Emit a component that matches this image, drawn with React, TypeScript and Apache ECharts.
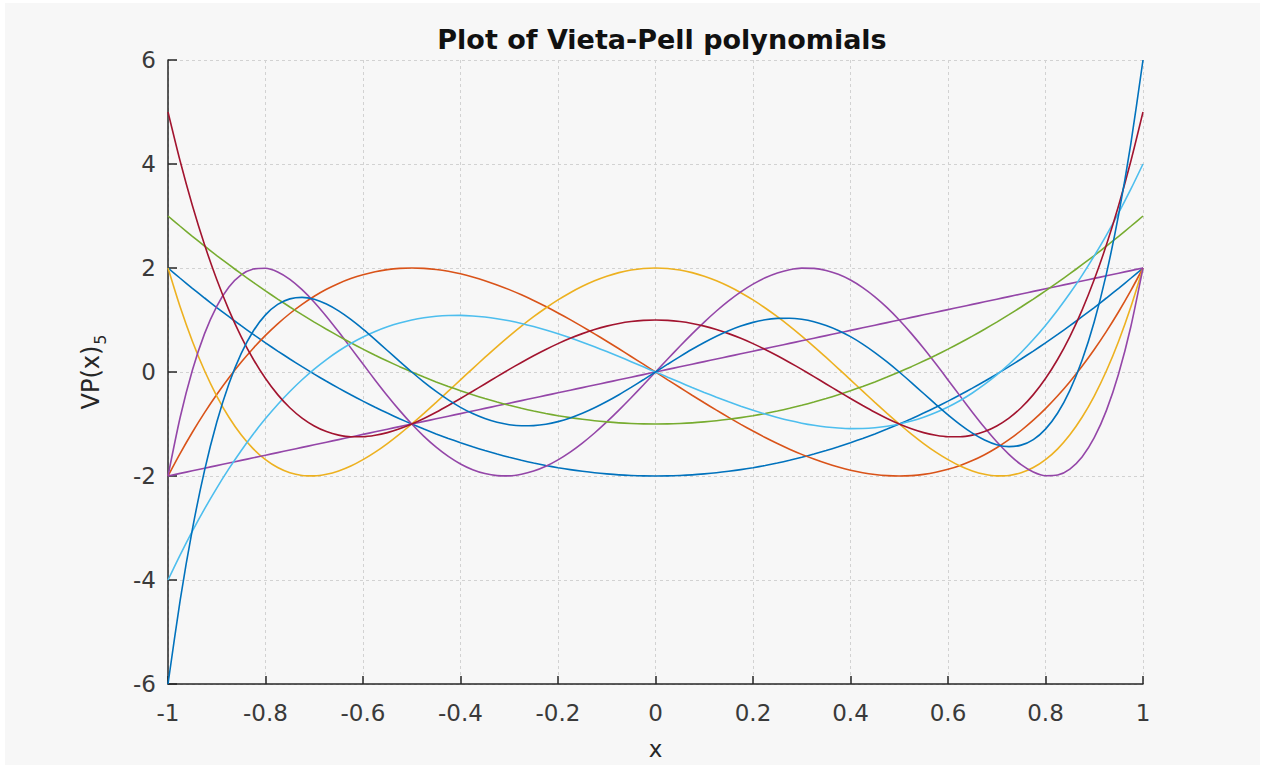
import React, { useEffect, useRef } from "react";
import * as echarts from "echarts";

// x sample positions (step 0.025)
const xs = [-1, -0.975, -0.95, -0.925, -0.9, -0.875, -0.85, -0.825, -0.8, -0.775, -0.75, -0.725, -0.7, -0.675, -0.65, -0.625, -0.6, -0.575, -0.55, -0.525, -0.5, -0.475, -0.45, -0.425, -0.4, -0.375, -0.35, -0.325, -0.3, -0.275, -0.25, -0.225, -0.2, -0.175, -0.15, -0.125, -0.1, -0.075, -0.05, -0.025, 0, 0.025, 0.05, 0.075, 0.1, 0.125, 0.15, 0.175, 0.2, 0.225, 0.25, 0.275, 0.3, 0.325, 0.35, 0.375, 0.4, 0.425, 0.45, 0.475, 0.5, 0.525, 0.55, 0.575, 0.6, 0.625, 0.65, 0.675, 0.7, 0.725, 0.75, 0.775, 0.8, 0.825, 0.85, 0.875, 0.9, 0.925, 0.95, 0.975, 1];

// Vieta-Pell-Lucas type curves
const vpl2 = [2, 1.803, 1.61, 1.423, 1.24, 1.063, 0.89, 0.723, 0.56, 0.403, 0.25, 0.103, -0.04, -0.178, -0.31, -0.438, -0.56, -0.678, -0.79, -0.898, -1, -1.098, -1.19, -1.278, -1.36, -1.438, -1.51, -1.578, -1.64, -1.698, -1.75, -1.798, -1.84, -1.878, -1.91, -1.938, -1.96, -1.978, -1.99, -1.998, -2, -1.998, -1.99, -1.978, -1.96, -1.938, -1.91, -1.878, -1.84, -1.798, -1.75, -1.698, -1.64, -1.578, -1.51, -1.438, -1.36, -1.278, -1.19, -1.098, -1, -0.898, -0.79, -0.678, -0.56, -0.438, -0.31, -0.178, -0.04, 0.103, 0.25, 0.403, 0.56, 0.723, 0.89, 1.063, 1.24, 1.423, 1.61, 1.803, 2];
const vpl3 = [-2, -1.565, -1.159, -0.782, -0.432, -0.109, 0.187, 0.458, 0.704, 0.926, 1.125, 1.301, 1.456, 1.59, 1.703, 1.797, 1.872, 1.929, 1.969, 1.992, 2, 1.993, 1.971, 1.936, 1.888, 1.828, 1.757, 1.675, 1.584, 1.484, 1.375, 1.259, 1.136, 1.007, 0.873, 0.734, 0.592, 0.447, 0.299, 0.15, 0, -0.15, -0.299, -0.447, -0.592, -0.734, -0.873, -1.007, -1.136, -1.259, -1.375, -1.484, -1.584, -1.675, -1.757, -1.828, -1.888, -1.936, -1.971, -1.993, -2, -1.992, -1.969, -1.929, -1.872, -1.797, -1.703, -1.59, -1.456, -1.301, -1.125, -0.926, -0.704, -0.458, -0.187, 0.109, 0.432, 0.782, 1.159, 1.565, 2];
const vpl4 = [2, 1.249, 0.592, 0.024, -0.462, -0.871, -1.208, -1.478, -1.686, -1.838, -1.938, -1.989, -1.998, -1.968, -1.904, -1.809, -1.686, -1.541, -1.376, -1.194, -1, -0.795, -0.584, -0.368, -0.15, 0.066, 0.28, 0.489, 0.69, 0.882, 1.063, 1.231, 1.386, 1.525, 1.648, 1.754, 1.842, 1.911, 1.96, 1.99, 2, 1.99, 1.96, 1.911, 1.842, 1.754, 1.648, 1.525, 1.386, 1.231, 1.063, 0.882, 0.69, 0.489, 0.28, 0.066, -0.15, -0.368, -0.584, -0.795, -1, -1.194, -1.376, -1.541, -1.686, -1.809, -1.904, -1.968, -1.998, -1.989, -1.938, -1.838, -1.686, -1.478, -1.208, -0.871, -0.462, 0.024, 0.592, 1.249, 2];
const vpl5 = [-2, -0.871, 0.034, 0.738, 1.264, 1.634, 1.866, 1.981, 1.994, 1.923, 1.781, 1.583, 1.342, 1.068, 0.772, 0.464, 0.152, -0.157, -0.456, -0.738, -1, -1.237, -1.445, -1.623, -1.768, -1.878, -1.953, -1.993, -1.998, -1.968, -1.906, -1.813, -1.69, -1.541, -1.367, -1.173, -0.96, -0.733, -0.495, -0.249, 0, 0.249, 0.495, 0.733, 0.96, 1.173, 1.367, 1.541, 1.69, 1.813, 1.906, 1.968, 1.998, 1.993, 1.953, 1.878, 1.768, 1.623, 1.445, 1.237, 1, 0.738, 0.456, 0.157, -0.152, -0.464, -0.772, -1.068, -1.342, -1.583, -1.781, -1.923, -1.994, -1.981, -1.866, -1.634, -1.264, -0.738, -0.034, 0.871, 2];

// Vieta-Pell type curves
const vp1 = [-2, -1.95, -1.9, -1.85, -1.8, -1.75, -1.7, -1.65, -1.6, -1.55, -1.5, -1.45, -1.4, -1.35, -1.3, -1.25, -1.2, -1.15, -1.1, -1.05, -1, -0.95, -0.9, -0.85, -0.8, -0.75, -0.7, -0.65, -0.6, -0.55, -0.5, -0.45, -0.4, -0.35, -0.3, -0.25, -0.2, -0.15, -0.1, -0.05, 0, 0.05, 0.1, 0.15, 0.2, 0.25, 0.3, 0.35, 0.4, 0.45, 0.5, 0.55, 0.6, 0.65, 0.7, 0.75, 0.8, 0.85, 0.9, 0.95, 1, 1.05, 1.1, 1.15, 1.2, 1.25, 1.3, 1.35, 1.4, 1.45, 1.5, 1.55, 1.6, 1.65, 1.7, 1.75, 1.8, 1.85, 1.9, 1.95, 2];
const vp2 = [3, 2.803, 2.61, 2.423, 2.24, 2.063, 1.89, 1.723, 1.56, 1.403, 1.25, 1.103, 0.96, 0.823, 0.69, 0.563, 0.44, 0.323, 0.21, 0.103, 0, -0.098, -0.19, -0.278, -0.36, -0.438, -0.51, -0.578, -0.64, -0.698, -0.75, -0.798, -0.84, -0.878, -0.91, -0.938, -0.96, -0.978, -0.99, -0.998, -1, -0.998, -0.99, -0.978, -0.96, -0.938, -0.91, -0.878, -0.84, -0.798, -0.75, -0.698, -0.64, -0.578, -0.51, -0.438, -0.36, -0.278, -0.19, -0.098, 0, 0.103, 0.21, 0.323, 0.44, 0.563, 0.69, 0.823, 0.96, 1.103, 1.25, 1.403, 1.56, 1.723, 1.89, 2.063, 2.24, 2.423, 2.61, 2.803, 3];
const vp3 = [-4, -3.515, -3.059, -2.632, -2.232, -1.859, -1.513, -1.192, -0.896, -0.624, -0.375, -0.149, 0.056, 0.24, 0.403, 0.547, 0.672, 0.779, 0.869, 0.942, 1, 1.043, 1.071, 1.086, 1.088, 1.078, 1.057, 1.025, 0.984, 0.934, 0.875, 0.809, 0.736, 0.657, 0.573, 0.484, 0.392, 0.297, 0.199, 0.1, 0, -0.1, -0.199, -0.297, -0.392, -0.484, -0.573, -0.657, -0.736, -0.809, -0.875, -0.934, -0.984, -1.025, -1.057, -1.078, -1.088, -1.086, -1.071, -1.043, -1, -0.942, -0.869, -0.779, -0.672, -0.547, -0.403, -0.24, -0.056, 0.149, 0.375, 0.624, 0.896, 1.192, 1.513, 1.859, 2.232, 2.632, 3.059, 3.515, 4];
const vp4 = [5, 4.052, 3.202, 2.446, 1.778, 1.191, 0.682, 0.245, -0.126, -0.435, -0.688, -0.887, -1.038, -1.146, -1.214, -1.246, -1.246, -1.218, -1.166, -1.092, -1, -0.893, -0.774, -0.645, -0.51, -0.371, -0.23, -0.089, 0.05, 0.184, 0.313, 0.434, 0.546, 0.648, 0.738, 0.816, 0.882, 0.933, 0.97, 0.993, 1, 0.993, 0.97, 0.933, 0.882, 0.816, 0.738, 0.648, 0.546, 0.434, 0.313, 0.184, 0.05, -0.089, -0.23, -0.371, -0.51, -0.645, -0.774, -0.893, -1, -1.092, -1.166, -1.218, -1.246, -1.246, -1.214, -1.146, -1.038, -0.887, -0.688, -0.435, -0.126, 0.245, 0.682, 1.191, 1.778, 2.446, 3.202, 4.052, 5];
const vp5 = [-6, -4.386, -3.025, -1.893, -0.968, -0.226, 0.353, 0.789, 1.098, 1.299, 1.406, 1.435, 1.398, 1.307, 1.175, 1.011, 0.824, 0.622, 0.413, 0.204, 0, -0.194, -0.374, -0.537, -0.68, -0.8, -0.896, -0.968, -1.014, -1.035, -1.031, -1.004, -0.954, -0.884, -0.794, -0.688, -0.568, -0.437, -0.296, -0.15, 0, 0.15, 0.296, 0.437, 0.568, 0.688, 0.794, 0.884, 0.954, 1.004, 1.031, 1.035, 1.014, 0.968, 0.896, 0.8, 0.68, 0.537, 0.374, 0.194, 0, -0.204, -0.413, -0.622, -0.824, -1.011, -1.175, -1.307, -1.398, -1.435, -1.406, -1.299, -1.098, -0.789, -0.353, 0.226, 0.968, 1.893, 3.025, 4.386, 6];

const seriesNames = ["VPL2", "VPL3", "VPL4", "VPL5", "VP1", "VP2", "VP3", "VP4", "VP5"];
const seriesValues = [vpl2, vpl3, vpl4, vpl5, vp1, vp2, vp3, vp4, vp5];
const seriesColors = ["#0072BD", "#D95319", "#EDB120", "#9446A8", "#9446A8", "#77AC30", "#4DBEEE", "#A2142F", "#0072BD"];

const xTicks = { min: -1, max: 1, interval: 0.2 };
const yTicks = { min: -6, max: 6, interval: 2 };

const FONT = "DejaVu Sans";

export default function App() {
  const ref = useRef<HTMLDivElement>(null);
  useEffect(() => {
    document.body.style.margin = "0";
    const chart = echarts.init(ref.current!, null, { renderer: "svg" });
    const gridLine = { show: true, lineStyle: { color: "#d2d2d2", width: 1, type: [3, 3] as any } };
    chart.setOption({
      animation: false,
      backgroundColor: "#f7f7f7",
      title: {
        text: "Plot of Vieta-Pell polynomials",
        left: 652,
        textAlign: "center",
        top: 18,
        textStyle: { fontFamily: FONT, fontSize: 27, fontWeight: "bold", color: "#111" },
      },
      grid: { left: 163, top: 57, right: 117, bottom: 80, containLabel: false },
      xAxis: {
        type: "value",
        min: xTicks.min,
        max: xTicks.max,
        interval: xTicks.interval,
        name: "x",
        nameLocation: "middle",
        nameGap: 53,
        nameTextStyle: { fontFamily: FONT, fontSize: 23, color: "#262626" },
        axisLine: { show: true, onZero: false, lineStyle: { color: "#262626", width: 1.5 } },
        axisTick: { show: true, inside: true, length: 8, lineStyle: { color: "#262626", width: 1.5 } },
        axisLabel: { fontFamily: FONT, fontSize: 23, color: "#3a3a3a", margin: 17 },
        splitLine: gridLine,
      },
      yAxis: {
        type: "value",
        min: yTicks.min,
        max: yTicks.max,
        interval: yTicks.interval,
        name: "{a|VP(x)}{s|5}",
        nameLocation: "middle",
        nameRotate: 90,
        nameGap: 60,
        nameTextStyle: {
          fontFamily: FONT,
          color: "#262626",
          rich: {
            a: { fontFamily: FONT, fontSize: 24, color: "#262626", lineHeight: 34, verticalAlign: "middle" },
            s: { fontFamily: FONT, fontSize: 16, color: "#262626", lineHeight: 34, verticalAlign: "bottom", padding: [10, 0, 0, 1] },
          },
        },
        axisLine: { show: true, onZero: false, lineStyle: { color: "#262626", width: 1.5 } },
        axisTick: { show: true, inside: true, length: 9, lineStyle: { color: "#262626", width: 1.5 } },
        axisLabel: { fontFamily: FONT, fontSize: 23, color: "#3a3a3a", margin: 12 },
        splitLine: gridLine,
      },
      series: seriesValues.map((vals, i) => ({
        name: seriesNames[i],
        type: "line",
        data: xs.map((x, j) => [x, vals[j]]),
        showSymbol: false,
        symbol: "none",
        smooth: 0.25,
        clip: true,
        lineStyle: { color: seriesColors[i], width: 1.6 },
        itemStyle: { color: seriesColors[i] },
      })),
    });
    return () => chart.dispose();
  }, []);
  return (
    <div style={{ width: 1265, height: 766, background: "#ffffff", position: "relative" }}>
      <div ref={ref} style={{ position: "absolute", left: 5, top: 3, width: 1255, height: 762 }} />
    </div>
  );
}
